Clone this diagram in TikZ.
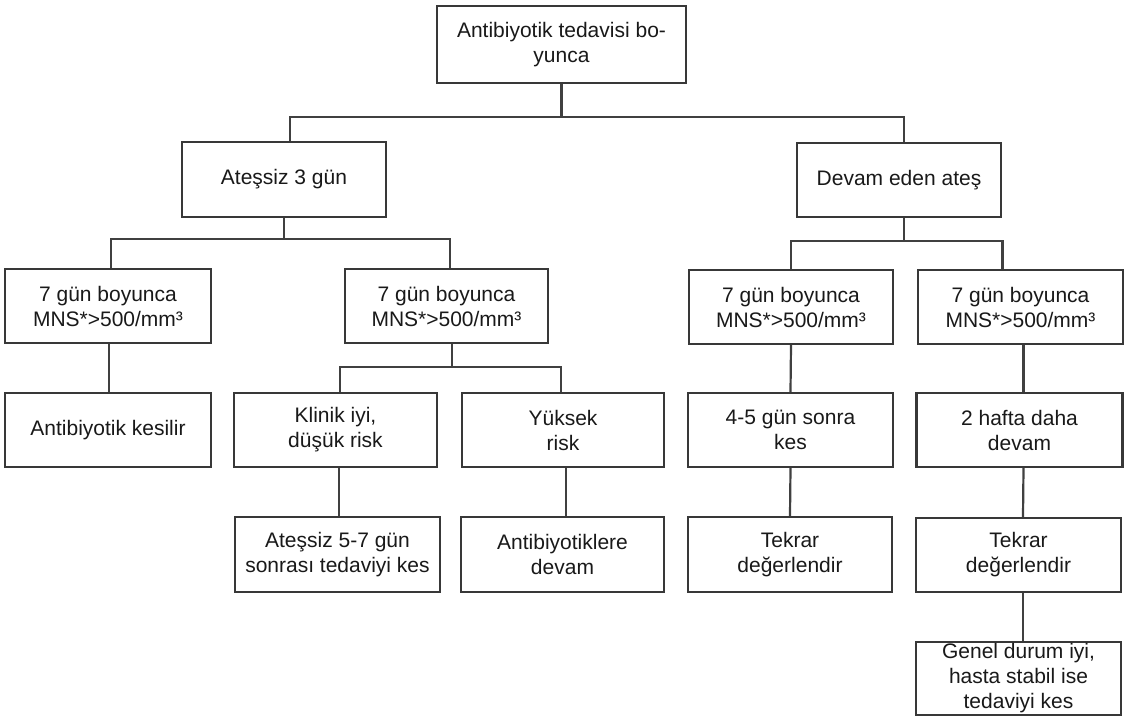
\documentclass[tikz,border=0pt]{standalone}
\usepackage{fontspec}
\setmainfont{Liberation Sans}
\usetikzlibrary{backgrounds}
\begin{document}
\begin{tikzpicture}[x=1pt,y=-1pt,
  box/.style={draw=black!78, line width=2.4pt, fill=white, align=center,
    inner sep=0pt, text=black!90, font=\fontsize{21}{25}\selectfont,
    minimum width=204pt, minimum height=74pt},
  conn/.style={draw=black!75, line width=2.2pt}]
\useasboundingbox (0,0) rectangle (1125,716);
% nodes
\node[box, minimum width=249pt, minimum height=77pt] (top) at (561.5,44.5) {Antibiyotik tedavisi bo-\\yunca};
\node[box, minimum height=75pt] (ates) at (284,179.5) {Ateşsiz 3 gün};
\node[box] (devam) at (899,180) {Devam eden ateş};
\node[box, minimum width=206pt] (r3a) at (108,306) {7 gün boyunca\\MNS*>500/mm³};
\node[box, minimum width=203pt] (r3b) at (446.5,306) {7 gün boyunca\\MNS*>500/mm³};
\node[box] (r3c) at (791,307) {7 gün boyunca\\MNS*>500/mm³};
\node[box, minimum width=205pt] (r3d) at (1020.5,307) {7 gün boyunca\\MNS*>500/mm³};
\node[box, minimum width=206pt] (r4a) at (108,430) {Antibiyotik kesilir};
\node[box, minimum width=203pt] (r4b) at (335.5,430) {Klinik iyi,\\düşük risk};
\node[box, minimum width=202pt] (r4c) at (563,430) {Yüksek\\risk};
\node[box, minimum width=205pt] (r4d) at (790.5,430) {4-5 gün sonra\\kes};
\node[box, minimum width=206pt] (r4e) at (1019.5,430) {2 hafta daha\\devam};
\node[box, minimum width=205pt, minimum height=75pt] (r5a) at (337.5,554.5) {Ateşsiz 5-7 gün\\sonrası tedaviyi kes};
\node[box, minimum width=203pt, minimum height=75pt] (r5b) at (562.5,554.5) {Antibiyotiklere\\devam};
\node[box, minimum height=75pt] (r5c) at (790,554.5) {Tekrar\\değerlendir};
\node[box, minimum width=205pt] (r5d) at (1018.5,555) {Tekrar\\değerlendir};
\node[box, minimum width=205pt, minimum height=73pt] (r6) at (1018.5,678.5) {Genel durum iyi,\\hasta stabil ise\\tedaviyi kes};
% connectors
\begin{scope}[on background layer]
\draw[conn] (top.south) -- ++(0,33) -| ([xshift=6pt]ates.north);
\draw[conn] (top.south) -- ++(0,33) -| ([xshift=5pt]devam.north);
\draw[conn] (ates.south) -- ++(0,21) -| ([xshift=3pt]r3a.north);
\draw[conn] (ates.south) -- ++(0,21) -| ([xshift=3.5pt]r3b.north);
\draw[conn] ([xshift=5pt]devam.south) -- ++(0,23) -| (r3c.north);
\draw[conn] ([xshift=5pt]devam.south) -- ++(0,23) -| ([xshift=-18pt]r3d.north);
\draw[conn] ([xshift=1pt]r3a.south) -- ([xshift=1pt]r4a.north);
\draw[conn] ([xshift=5.5pt]r3b.south) -- ++(0,23) -| ([xshift=4.5pt]r4b.north);
\draw[conn] ([xshift=5.5pt]r3b.south) -- ++(0,23) -| ([xshift=-2pt]r4c.north);
\draw[conn] (r3c.south) -- (r4d.north);
\draw[conn] ([xshift=4pt]r4e.north |- r3d.south) -- ([xshift=4pt]r4e.north);
\draw[conn] ([xshift=3.5pt]r4b.south) -- ([xshift=1.5pt]r5a.north);
\draw[conn] ([xshift=3pt]r4c.south) -- ([xshift=3.5pt]r5b.north);
\draw[conn] (r4d.south) -- (r5c.north);
\draw[conn] ([xshift=4pt]r4e.south) -- ([xshift=4.5pt]r5d.north);
\draw[conn] ([xshift=4.5pt]r5d.south) -- ([xshift=4.5pt]r6.north);
\end{scope}
\end{tikzpicture}
\end{document}
